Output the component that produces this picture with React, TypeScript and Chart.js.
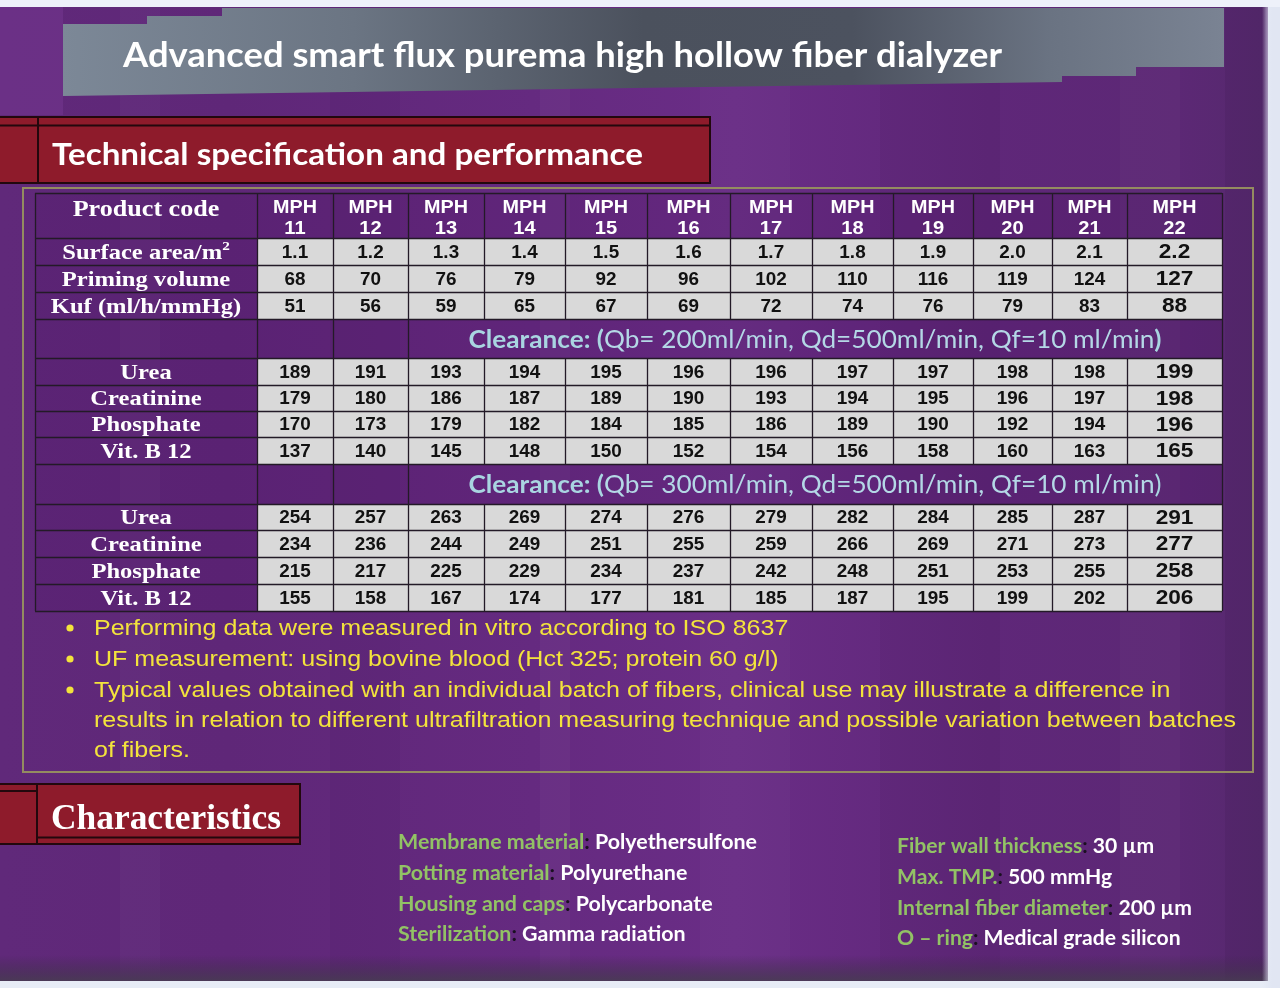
import React, { useEffect, useRef } from 'react';
import { Chart, registerables } from 'chart.js';

Chart.register(...registerables);

// ---------------- DATA ----------------
const PRODUCT_CODES = [11, 12, 13, 14, 15, 16, 17, 18, 19, 20, 21, 22];
const SURFACE_AREA = [1.1, 1.2, 1.3, 1.4, 1.5, 1.6, 1.7, 1.8, 1.9, 2.0, 2.1, 2.2];
const PRIMING_VOLUME = [68, 70, 76, 79, 92, 96, 102, 110, 116, 119, 124, 127];
const KUF = [51, 56, 59, 65, 67, 69, 72, 74, 76, 79, 83, 88];

const QB_VALUES = [200, 300];
const QD_VALUE = 500;
const QF_VALUE = 10;

const UREA_QB200 = [189, 191, 193, 194, 195, 196, 196, 197, 197, 198, 198, 199];
const CREATININE_QB200 = [179, 180, 186, 187, 189, 190, 193, 194, 195, 196, 197, 198];
const PHOSPHATE_QB200 = [170, 173, 179, 182, 184, 185, 186, 189, 190, 192, 194, 196];
const VITB12_QB200 = [137, 140, 145, 148, 150, 152, 154, 156, 158, 160, 163, 165];

const UREA_QB300 = [254, 257, 263, 269, 274, 276, 279, 282, 284, 285, 287, 291];
const CREATININE_QB300 = [234, 236, 244, 249, 251, 255, 259, 266, 269, 271, 273, 277];
const PHOSPHATE_QB300 = [215, 217, 225, 229, 234, 237, 242, 248, 251, 253, 255, 258];
const VITB12_QB300 = [155, 158, 167, 174, 177, 181, 185, 187, 195, 199, 202, 206];

const TITLE = 'Advanced smart flux purema high hollow fiber dialyzer';
const SECTION_1 = 'Technical specification and performance';
const SECTION_2 = 'Characteristics';

const NOTES = [
  'Performing data were measured in vitro according to ISO 8637',
  'UF measurement: using bovine blood (Hct 325; protein 60 g/l)',
  'Typical values obtained with an individual batch of fibers, clinical use may illustrate a difference in',
  'results in relation to different ultrafiltration measuring technique and possible variation between batches',
  'of fibers.',
];
const NOTE_BULLETS = [true, true, true, false, false];

const CHAR_LEFT = [
  ['Membrane material', 'Polyethersulfone'],
  ['Potting material', 'Polyurethane'],
  ['Housing and caps', 'Polycarbonate'],
  ['Sterilization', 'Gamma radiation'],
];
const CHAR_RIGHT = [
  ['Fiber wall thickness', '30 µm'],
  ['Max. TMP.', '500 mmHg'],
  ['Internal fiber diameter', '200 µm'],
  ['O – ring', 'Medical grade silicon'],
];

type RowDef = {
  kind: 'header' | 'data' | 'clear';
  label?: string;
  sup?: string;
  values?: number[];
  decimals?: number;
  qb?: number;
  boldClose?: boolean;
};

const ROWS: RowDef[] = [
  { kind: 'header', label: 'Product code' },
  { kind: 'data', label: 'Surface area/m', sup: '2', values: SURFACE_AREA, decimals: 1 },
  { kind: 'data', label: 'Priming volume', values: PRIMING_VOLUME },
  { kind: 'data', label: 'Kuf (ml/h/mmHg)', values: KUF },
  { kind: 'clear', qb: QB_VALUES[0], boldClose: true },
  { kind: 'data', label: 'Urea', values: UREA_QB200 },
  { kind: 'data', label: 'Creatinine', values: CREATININE_QB200 },
  { kind: 'data', label: 'Phosphate', values: PHOSPHATE_QB200 },
  { kind: 'data', label: 'Vit. B 12', values: VITB12_QB200 },
  { kind: 'clear', qb: QB_VALUES[1], boldClose: false },
  { kind: 'data', label: 'Urea', values: UREA_QB300 },
  { kind: 'data', label: 'Creatinine', values: CREATININE_QB300 },
  { kind: 'data', label: 'Phosphate', values: PHOSPHATE_QB300 },
  { kind: 'data', label: 'Vit. B 12', values: VITB12_QB300 },
];

// ---------------- LAYOUT (sizes in scale units) ----------------
const COL_UNITS = [222, 76, 75, 76, 81, 82, 83, 82, 81, 80, 79, 75, 95];
const ROW_UNITS = [45, 27, 27, 27, 39, 27, 26, 26, 27, 40, 26, 27, 27, 27];
const cum = (a: number[]) => a.reduce((acc: number[], v) => { acc.push(acc[acc.length - 1] + v); return acc; }, [0]);
const COL_EDGES = cum(COL_UNITS);
const ROW_EDGES = cum(ROW_UNITS);
const TOTAL_W = COL_EDGES[COL_EDGES.length - 1];
const TOTAL_H = ROW_EDGES[ROW_EDGES.length - 1];
const colMid = (c: number) => (COL_EDGES[c] + COL_EDGES[c + 1]) / 2;
const rowMid = (r: number) => (ROW_EDGES[r] + ROW_EDGES[r + 1]) / 2;

const W = 1280;
const H = 988;

// ---------------- STYLE ----------------
const SANS = '"Liberation Sans", Arial, sans-serif';
const SERIF = '"Liberation Serif", "Times New Roman", serif';
const CAL = 'Lato, "Open Sans", sans-serif';
const RED = '#8e1b2b';
const RED_LINE = '#22080d';
const CELL_BG = '#d9d9d9';
const GRID = '#231a27';
const YELLOW = '#f3e33c';
const GREEN = '#92c265';
const CLEAR_COLOR = '#a9d5e1';

type Seg = { t: string; font: string; color: string; dy?: number };

function segWidth(ctx: CanvasRenderingContext2D, segs: Seg[]) {
  let total = 0;
  segs.forEach((s) => { ctx.font = s.font; total += ctx.measureText(s.t).width; });
  return total;
}

function drawSegs(ctx: CanvasRenderingContext2D, segs: Seg[], x: number, baseline: number, align: 'left' | 'center', sx: number) {
  const widths = segs.map((s) => { ctx.font = s.font; return ctx.measureText(s.t).width; });
  const total = widths.reduce((a, b) => a + b, 0) * sx;
  const x0 = align === 'center' ? x - total / 2 : x;
  ctx.save();
  ctx.translate(x0, baseline);
  ctx.scale(sx, 1);
  ctx.textAlign = 'left';
  ctx.textBaseline = 'alphabetic';
  let px = 0;
  segs.forEach((s, i) => {
    ctx.font = s.font;
    ctx.fillStyle = s.color;
    ctx.fillText(s.t, px, s.dy || 0);
    px += widths[i];
  });
  ctx.restore();
}

function fitted(ctx: CanvasRenderingContext2D, segs: Seg[], x: number, baseline: number, targetW: number, align: 'left' | 'center' = 'left') {
  const sx = targetW / segWidth(ctx, segs);
  drawSegs(ctx, segs, x, baseline, align, sx);
  return sx;
}

function drawDecor(ctx: CanvasRenderingContext2D) {
  // page
  ctx.fillStyle = '#e7ecf6';
  ctx.fillRect(0, 0, W, H);

  // purple slide
  const g = ctx.createLinearGradient(0, 0, 1268, 0);
  g.addColorStop(0, '#60297a');
  g.addColorStop(0.18, '#5f2778');
  g.addColorStop(0.42, '#652a80');
  g.addColorStop(0.58, '#6a2d86');
  g.addColorStop(0.78, '#5f2779');
  g.addColorStop(0.93, '#5c2875');
  g.addColorStop(1, '#55296d');
  ctx.fillStyle = g;
  ctx.fillRect(0, 7, 1268, 974);

  // subtle vertical streaks
  const streaks: [number, number, string][] = [
    [120, 40, 'rgba(255,255,255,0.025)'],
    [330, 70, 'rgba(0,0,0,0.03)'],
    [540, 30, 'rgba(255,255,255,0.03)'],
    [700, 90, 'rgba(255,255,255,0.02)'],
    [880, 120, 'rgba(0,0,0,0.035)'],
    [1120, 60, 'rgba(255,255,255,0.02)'],
    [1225, 40, 'rgba(0,0,0,0.05)'],
  ];
  streaks.forEach(([x, w, c]) => { ctx.fillStyle = c; ctx.fillRect(x, 7, w, 974); });

  // top-left lighter area
  ctx.fillStyle = 'rgba(140,70,170,0.25)';
  ctx.fillRect(0, 7, 63, 108);

  // bottom shading
  const gb = ctx.createLinearGradient(0, 955, 0, 981);
  gb.addColorStop(0, 'rgba(60,40,70,0)');
  gb.addColorStop(1, 'rgba(70,60,80,0.85)');
  ctx.fillStyle = gb;
  ctx.fillRect(0, 955, 1268, 26);

  // right light edge
  const gr = ctx.createLinearGradient(1262, 0, 1272, 0);
  gr.addColorStop(0, 'rgba(225,230,243,0)');
  gr.addColorStop(1, 'rgba(225,230,243,1)');
  ctx.fillStyle = gr;
  ctx.fillRect(1262, 0, 18, H);
  ctx.fillStyle = '#e1e6f3';
  ctx.fillRect(1272, 0, 8, H);
  ctx.fillStyle = '#eef1fa';
  ctx.fillRect(0, 0, W, 7);

  // grey title banner
  const gg = ctx.createLinearGradient(63, 0, 1224, 0);
  gg.addColorStop(0, '#7c8897');
  gg.addColorStop(0.25, '#6b7583');
  gg.addColorStop(0.5, '#4b515d');
  gg.addColorStop(0.68, '#4c525f');
  gg.addColorStop(0.85, '#6a7382');
  gg.addColorStop(1, '#7a8393');
  ctx.fillStyle = gg;
  ctx.beginPath();
  ctx.moveTo(63, 24);
  ctx.lineTo(147, 24);
  ctx.lineTo(147, 16);
  ctx.lineTo(222, 16);
  ctx.lineTo(222, 8);
  ctx.lineTo(1224, 8);
  ctx.lineTo(1224, 67);
  ctx.lineTo(1136, 67);
  ctx.lineTo(1136, 76);
  ctx.lineTo(1062, 76);
  ctx.lineTo(1062, 82);
  ctx.lineTo(63, 96);
  ctx.closePath();
  ctx.fill();

  fitted(ctx, [{ t: TITLE, font: `bold 35px ${CAL}`, color: '#ffffff' }], 123, 67, 879);

  // section bar 1
  ctx.fillStyle = RED;
  ctx.fillRect(0, 117, 710, 66);
  ctx.strokeStyle = RED_LINE;
  ctx.lineWidth = 2;
  ctx.beginPath();
  ctx.moveTo(0, 117); ctx.lineTo(711, 117);
  ctx.moveTo(0, 125.5); ctx.lineTo(710, 125.5);
  ctx.moveTo(0, 183); ctx.lineTo(711, 183);
  ctx.moveTo(710, 117); ctx.lineTo(710, 183);
  ctx.moveTo(38, 117); ctx.lineTo(38, 183);
  ctx.stroke();
  fitted(ctx, [{ t: SECTION_1, font: `bold 31px ${CAL}`, color: '#ffffff' }], 52, 165, 591);

  // table frame
  ctx.strokeStyle = '#948c60';
  ctx.lineWidth = 2;
  ctx.strokeRect(23, 188, 1230, 584);

  // section bar 2
  ctx.fillStyle = RED;
  ctx.fillRect(0, 784, 300, 60);
  ctx.strokeStyle = RED_LINE;
  ctx.lineWidth = 2;
  ctx.beginPath();
  ctx.moveTo(0, 784); ctx.lineTo(301, 784);
  ctx.moveTo(0, 791); ctx.lineTo(37, 791);
  ctx.moveTo(37, 784); ctx.lineTo(37, 844);
  ctx.moveTo(37, 837.5); ctx.lineTo(300, 837.5);
  ctx.moveTo(0, 844); ctx.lineTo(301, 844);
  ctx.moveTo(300, 784); ctx.lineTo(300, 844);
  ctx.stroke();
  fitted(ctx, [{ t: SECTION_2, font: `bold 36px ${SERIF}`, color: '#ffffff' }], 51, 829, 230);
}

function drawTable(chart: any) {
  const ctx: CanvasRenderingContext2D = chart.ctx;
  const xs = chart.scales.x;
  const ys = chart.scales.y;
  const X = (u: number) => xs.getPixelForValue(u);
  const Y = (u: number) => ys.getPixelForValue(u);

  // fills
  ROWS.forEach((row, r) => {
    const y0 = Y(ROW_EDGES[r]);
    const y1 = Y(ROW_EDGES[r + 1]);
    ctx.fillStyle = 'rgba(70,18,95,0.18)';
    ctx.fillRect(X(0), y0, X(TOTAL_W) - X(0), y1 - y0);
    if (row.kind === 'data') {
      ctx.fillStyle = CELL_BG;
      ctx.fillRect(X(COL_EDGES[1]), y0, X(TOTAL_W) - X(COL_EDGES[1]), y1 - y0);
    }
  });

  // grid
  ctx.strokeStyle = GRID;
  ctx.lineWidth = 1.3;
  ctx.beginPath();
  ROW_EDGES.forEach((e) => {
    const y = Math.round(Y(e)) + 0.5;
    ctx.moveTo(X(0), y);
    ctx.lineTo(X(TOTAL_W), y);
  });
  ROWS.forEach((row, r) => {
    const y0 = Y(ROW_EDGES[r]);
    const y1 = Y(ROW_EDGES[r + 1]);
    COL_EDGES.forEach((e, c) => {
      if (row.kind === 'clear' && c > 3 && c < COL_EDGES.length - 1) return;
      const x = Math.round(X(e)) + 0.5;
      ctx.moveTo(x, y0);
      ctx.lineTo(x, y1);
    });
  });
  ctx.stroke();

  // header codes
  const hy = Y(rowMid(0));
  PRODUCT_CODES.forEach((code, i) => {
    const cx = X(colMid(i + 1));
    drawSegs(ctx, [{ t: 'MPH', font: `bold 19px ${SANS}`, color: '#ffffff' }], cx, hy - 9 + 6.8, 'center', 1.04);
    drawSegs(ctx, [{ t: String(code), font: `bold 19px ${SANS}`, color: '#ffffff' }], cx, hy + 11.5 + 6.8, 'center', 1.06);
  });

  // row labels
  const lx = X(colMid(0));
  ROWS.forEach((row, r) => {
    if (!row.label) return;
    const cy = Y(rowMid(r));
    if (row.kind === 'header') {
      drawSegs(ctx, [{ t: row.label, font: `bold 22.5px ${SERIF}`, color: '#ffffff' }], lx, cy - 6.5 + 7.4, 'center', 1.16);
      return;
    }
    const segs: Seg[] = [{ t: row.label, font: `bold 21px ${SERIF}`, color: '#ffffff' }];
    if (row.sup) segs.push({ t: row.sup, font: `bold 13px ${SERIF}`, color: '#ffffff', dy: -9 });
    drawSegs(ctx, segs, lx, cy + 7, 'center', 1.17);
  });

  // clearance titles
  ROWS.forEach((row, r) => {
    if (row.kind !== 'clear') return;
    const cx = X((COL_EDGES[3] + TOTAL_W) / 2);
    const cy = Y(rowMid(r));
    const segs: Seg[] = [
      { t: 'Clearance: (', font: `bold 25px ${CAL}`, color: CLEAR_COLOR },
      { t: `Qb= ${row.qb}ml/min, Qd=${QD_VALUE}ml/min, Qf=${QF_VALUE} ml/min`, font: `25px ${CAL}`, color: '#b4d8e6' },
      { t: ')', font: `${row.boldClose ? 'bold ' : ''}25px ${CAL}`, color: CLEAR_COLOR },
    ];
    fitted(ctx, segs, cx, cy + 9, 693, 'center');
  });

  // data values via dataset elements
  chart.data.datasets.forEach((ds: any, d: number) => {
    const meta = chart.getDatasetMeta(d);
    meta.data.forEach((el: any, i: number) => {
      const last = i === PRODUCT_CODES.length - 1;
      const size = last ? 19.5 : 17.5;
      drawSegs(
        ctx,
        [{ t: ds.texts[i], font: `bold ${size}px ${SANS}`, color: '#111111' }],
        el.x,
        el.y + size * 0.716 / 2,
        'center',
        last ? 1.16 : 1.08,
      );
    });
  });
}

function drawNotesAndChars(ctx: CanvasRenderingContext2D) {
  // notes
  const noteFont = `22px ${SANS}`;
  ctx.font = noteFont;
  const sx = 1142 / ctx.measureText(NOTES[3]).width;
  const baselines = [635, 666, 697, 727, 757];
  NOTES.forEach((line, i) => {
    drawSegs(ctx, [{ t: line, font: noteFont, color: YELLOW }], 94, baselines[i], 'left', sx);
    if (NOTE_BULLETS[i]) {
      ctx.fillStyle = YELLOW;
      ctx.beginPath();
      ctx.arc(70, baselines[i] - 7, 3.6, 0, Math.PI * 2);
      ctx.fill();
    }
  });

  // characteristics
  const charSegs = (k: string, v: string): Seg[] => [
    { t: k, font: `bold 20px ${CAL}`, color: GREEN },
    { t: ':', font: `bold 20px ${CAL}`, color: '#1a1020' },
    { t: ' ' + v, font: `bold 20px ${CAL}`, color: '#ffffff' },
  ];
  const sxL = 359 / segWidth(ctx, charSegs(CHAR_LEFT[0][0], CHAR_LEFT[0][1]));
  const leftBase = [849, 880, 911, 941];
  CHAR_LEFT.forEach(([k, v], i) => drawSegs(ctx, charSegs(k, v), 398, leftBase[i], 'left', sxL));
  const sxR = 295 / segWidth(ctx, charSegs(CHAR_RIGHT[2][0], CHAR_RIGHT[2][1]));
  const rightBase = [853, 884, 915, 945];
  CHAR_RIGHT.forEach(([k, v], i) => drawSegs(ctx, charSegs(k, v), 897, rightBase[i], 'left', sxR));
}

const specPlugin = {
  id: 'specTable',
  beforeDraw(chart: any) { drawDecor(chart.ctx); },
  afterDatasetsDraw(chart: any) { drawTable(chart); },
  afterDraw(chart: any) { drawNotesAndChars(chart.ctx); },
};

function buildDatasets() {
  const sets: any[] = [];
  ROWS.forEach((row, r) => {
    if (row.kind !== 'data' || !row.values) return;
    sets.push({
      label: row.label,
      data: row.values.map((_, i) => ({ x: colMid(i + 1), y: rowMid(r) })),
      texts: row.values.map((v) => (row.decimals ? v.toFixed(row.decimals) : String(v))),
      pointRadius: 0,
      pointHoverRadius: 0,
      showLine: false,
    });
  });
  return sets;
}

export default function App() {
  const ref = useRef<HTMLCanvasElement>(null);
  useEffect(() => {
    document.body.style.margin = '0';
    const canvas = ref.current;
    if (!canvas) return;
    const chart = new Chart(canvas, {
      type: 'scatter',
      data: { datasets: buildDatasets() },
      options: {
        responsive: false,
        animation: false,
        devicePixelRatio: 1,
        events: [],
        layout: { padding: { left: 35, top: 193, right: W - 1222, bottom: H - 611 } },
        plugins: { legend: { display: false }, tooltip: { enabled: false } },
        scales: {
          x: { type: 'linear', min: 0, max: TOTAL_W, display: false },
          y: { type: 'linear', min: 0, max: TOTAL_H, reverse: true, display: false },
        },
      } as any,
      plugins: [specPlugin],
    });
    return () => chart.destroy();
  }, []);
  return (
    <div style={{ width: W, height: H }}>
      <canvas ref={ref} width={W} height={H} style={{ display: 'block', width: W, height: H }} />
    </div>
  );
}
